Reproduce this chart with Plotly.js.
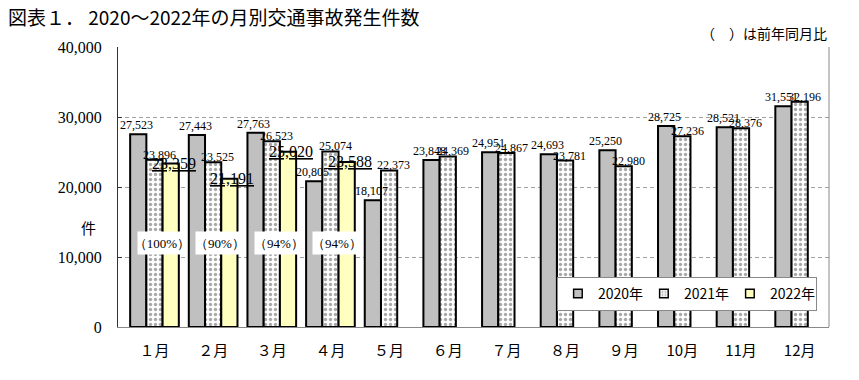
<!DOCTYPE html>
<html>
<head>
<meta charset="utf-8">
<script src="https://cdn.plot.ly/plotly-3.0.1.min.js"></script>
<style>
html,body{margin:0;padding:0;background:#fff;}
#chart{width:859px;height:380px;}
#chart .legend .legendpoints path{transform:translate(20px,0px) scale(0.72);}
</style>
</head>
<body>
<div id="chart"></div>
<script>
const months = ['１月','２月','３月','４月','５月','６月','７月','８月','９月','10月','11月','12月'];
const series2020 = [27523, 27443, 27763, 20805, 18107, 23848, 24951, 24693, 25250, 28725, 28521, 31551];
const series2021 = [23896, 23525, 26523, 25074, 22373, 24369, 24867, 23781, 22980, 27236, 28376, 32196];
const series2022 = [23359, 21191, 25020, 23588];
const ratio2022 = ['（100%）', '（90%）', '（94%）', '（94%）'];
const seriesNames = ['2020年', '2021年', '2022年'];
const yTicks = [0, 10000, 20000, 30000, 40000];

const numFont = 'Liberation Serif, serif';
const jpFont = 'Noto Sans CJK JP, sans-serif';
const bargap = 0.17;
const w = (1 - bargap) / 3;
const fmt = v => v.toLocaleString('en-US');

const traces = [
  {type:'bar', name:seriesNames[0], x:months, y:series2020,
   marker:{color:'#c0c0c0', line:{color:'#000', width:2}}, hoverinfo:'skip'},
  {type:'bar', name:seriesNames[1], x:months, y:series2021,
   marker:{color:'#ffffff', line:{color:'#000', width:2},
     pattern:{shape:'.', fgcolor:'#a8a8a8', bgcolor:'#ffffff', size:5, solidity:0.35}}, hoverinfo:'skip'},
  {type:'bar', name:seriesNames[2], x:months.slice(0, series2022.length), y:series2022,
   marker:{color:'#ffffc0', line:{color:'#000', width:2}}, hoverinfo:'skip'}
];

const ann = [];
series2020.forEach((v, i) => ann.push({x:i - w - 0.03, y:v, xref:'x', yref:'y', text:fmt(v), showarrow:false,
  yanchor:'bottom', yshift:0, font:{family:numFont, size:12, color:'#000'}}));
series2021.forEach((v, i) => ann.push({x:i + 0.08, y:v, xref:'x', yref:'y', text:fmt(v), showarrow:false,
  yanchor:'bottom', yshift:-4, font:{family:numFont, size:12, color:'#000'}}));
series2022.forEach((v, i) => ann.push({x:i + w + 0.05, y:v, xref:'x', yref:'y', text:'<u>' + fmt(v) + '</u>', showarrow:false,
  yanchor:'middle', font:{family:numFont, size:16, color:'#000'}}));
ratio2022.forEach((t, i) => ann.push({x:i + 0.12, y:12000, xref:'x', yref:'y', text:t, showarrow:false,
  yanchor:'middle', bgcolor:'#ffffff', width:46, height:20, borderpad:1, font:{family:numFont, size:13, color:'#000'}}));
ann.push({x:1, y:1, xref:'paper', yref:'paper', xanchor:'right', yanchor:'bottom', yshift:2,
  text:'（　）は前年同月比', showarrow:false, font:{family:jpFont, size:14, color:'#000'}});
ann.push({x:-0.042, y:0.357, xref:'paper', yref:'paper', xanchor:'center', yanchor:'middle',
  text:'件', showarrow:false, font:{family:jpFont, size:15, color:'#000'}});

const layout = {
  width:859, height:380,
  margin:{l:118, r:30, t:47, b:53, autoexpand:false},
  paper_bgcolor:'#fff', plot_bgcolor:'#fff',
  barmode:'group', bargap:bargap, bargroupgap:0,
  title:{text:'図表１． 2020～2022年の月別交通事故発生件数', x:8/859, xref:'container', xanchor:'left',
    y:1 - 18/380, yref:'container', yanchor:'middle', font:{family:jpFont, size:19, color:'#000'}},
  xaxis:{type:'category', showline:true, linecolor:'#888', linewidth:1, ticks:'', showgrid:false,
    tickfont:{family:jpFont, size:15, color:'#000'}, ticklabelstandoff:10, fixedrange:true, automargin:false},
  yaxis:{range:[0, 40000], tickvals:yTicks, ticktext:yTicks.map(fmt), showline:true, linecolor:'#333', linewidth:1,
    ticks:'inside', ticklen:4, tickcolor:'#333', showgrid:true, gridcolor:'#a0a0a0', griddash:'4px,3px', gridwidth:1,
    zeroline:false, tickfont:{family:numFont, size:16, color:'#000'}, ticklabelstandoff:12, fixedrange:true, automargin:false},
  legend:{orientation:'h', x:0.983, y:0.179, xanchor:'right', yanchor:'top', bgcolor:'#fff',
    bordercolor:'#888', borderwidth:1, entrywidth:41, entrywidthmode:'pixels', itemwidth:30,
    font:{family:jpFont, size:14, color:'#000'}, traceorder:'normal'},
  shapes:[{type:'line', xref:'paper', yref:'paper', x0:1, x1:1, y0:0, y1:1, line:{color:'#888', width:1}}],
  annotations:ann,
  showlegend:true
};

Plotly.newPlot('chart', traces, layout, {displayModeBar:false, staticPlot:true});
</script>
</body>
</html>
